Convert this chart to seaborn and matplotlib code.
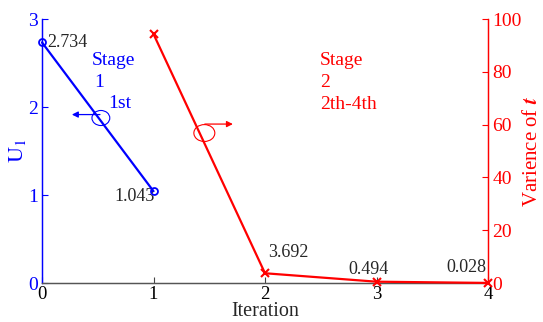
import matplotlib
matplotlib.use("Agg")
import matplotlib.pyplot as plt
from matplotlib.patches import Ellipse
import seaborn as sns
import pandas as pd

# Stage 1: U1 over the first iteration
stage1_iter = [0, 1]
stage1_u1 = [2.734, 1.043]
stage1_labels = ["2.734", "1.043"]

# Stage 2: variance over iterations 1-4
stage2_iter = [1, 2, 3, 4]
stage2_var = [94.3, 3.692, 0.494, 0.028]
stage2_labels = [None, "3.692", "0.494", "0.028"]

x_ticks = [0, 1, 2, 3, 4]
left_ticks = [0, 1, 2, 3]
right_ticks = [0, 20, 40, 60, 80, 100]

sns.set_style("ticks")
plt.rcParams["font.family"] = ["Liberation Serif", "DejaVu Serif"]
plt.rcParams["mathtext.fontset"] = "stix"
plt.rcParams["xtick.direction"] = "in"
plt.rcParams["ytick.direction"] = "in"

BLUE = "#0000ff"
RED = "#ff0000"

fig = plt.figure(figsize=(5.43, 3.22), dpi=100)
ax = fig.add_axes([42 / 543, 1 - 283 / 322, 446 / 543, 264 / 322])
ax2 = ax.twinx()

df1 = pd.DataFrame({"iter": stage1_iter, "u1": stage1_u1})
df2 = pd.DataFrame({"iter": stage2_iter, "var": stage2_var})

sns.lineplot(data=df1, x="iter", y="u1", ax=ax, color=BLUE, linewidth=1.6,
             marker="o", markersize=5, markerfacecolor="none",
             markeredgecolor=BLUE, markeredgewidth=1.3, clip_on=False, zorder=5)
sns.lineplot(data=df2, x="iter", y="var", ax=ax2, color=RED, linewidth=1.6,
             marker="x", markersize=6, markeredgecolor=RED,
             markeredgewidth=1.5, clip_on=False, zorder=5)

ax.set_xlim(0, 4)
ax.set_ylim(0, 3)
ax2.set_ylim(0, 100)
ax.set_xticks(x_ticks)
ax.set_yticks(left_ticks)
ax2.set_yticks(right_ticks)

tick_fs = 14
ax.tick_params(axis="x", labelsize=13.5, length=4, colors="#444444", labelcolor="black", pad=2.5)
ax.tick_params(axis="y", labelsize=tick_fs, length=4, colors=BLUE, labelcolor=BLUE, pad=3)
ax2.tick_params(axis="y", labelsize=tick_fs, length=4, colors=RED, labelcolor=RED, pad=3)

for a in (ax, ax2):
    a.spines["top"].set_visible(False)
    a.spines["left"].set_color(BLUE)
    a.spines["right"].set_color(RED)
    a.spines["bottom"].set_color("#555555")
    a.spines["left"].set_linewidth(0.9)
    a.spines["right"].set_linewidth(0.9)
    a.spines["bottom"].set_linewidth(0.9)

ax.set_xlabel("Iteration", fontsize=14.5, labelpad=-1)
ax.set_ylabel(r"$\mathrm{U}_1$", fontsize=16, color=BLUE, labelpad=0)
ax2.set_ylabel(r"Varience of $\mathbfit{t}$", fontsize=15, color=RED, labelpad=1)

# value labels
ann_fs = 13
ax.annotate(stage1_labels[0], (stage1_iter[0], stage1_u1[0]), xytext=(4, 0),
            textcoords="offset points", ha="left", va="center", fontsize=ann_fs)
ax.annotate(stage1_labels[1], (stage1_iter[1], stage1_u1[1]), xytext=(1, -4),
            textcoords="offset points", ha="right", va="center", fontsize=ann_fs)
offsets = {1: (2, 15, "left"), 2: (-6, 9, "center"), 3: (-1, 11, "right")}
for i, lab in enumerate(stage2_labels):
    if lab is None:
        continue
    dx, dy, ha = offsets[i]
    ax2.annotate(lab, (stage2_iter[i], stage2_var[i]), xytext=(dx, dy),
                 textcoords="offset points", ha=ha, va="center", fontsize=ann_fs)

# stage notes
note_fs = 14
ax.text(0.112, 0.826, "Stage", transform=ax.transAxes, color=BLUE, fontsize=note_fs, va="baseline")
ax.text(0.117, 0.742, "1", transform=ax.transAxes, color=BLUE, fontsize=note_fs, va="baseline")
ax.text(0.148, 0.663, "1st", transform=ax.transAxes, color=BLUE, fontsize=note_fs, va="baseline")
ax.text(0.623, 0.826, "Stage", transform=ax.transAxes, color=RED, fontsize=note_fs, va="baseline")
ax.text(0.623, 0.742, "2", transform=ax.transAxes, color=RED, fontsize=note_fs, va="baseline")
ax.text(0.623, 0.659, "2th-4th", transform=ax.transAxes, color=RED, fontsize=note_fs, va="baseline")

# axis-pointer ellipses and arrows
ax.add_patch(Ellipse((0.132, 0.625), 0.040, 0.057, transform=ax.transAxes,
                     fill=False, edgecolor=BLUE, linewidth=0.8, zorder=6))
ax.annotate("", xy=(0.067, 0.638), xytext=(0.130, 0.638), xycoords="axes fraction",
            arrowprops=dict(arrowstyle="-|>", color=BLUE, lw=0.9, mutation_scale=9,
                            shrinkA=0, shrinkB=0))
ax.add_patch(Ellipse((0.364, 0.568), 0.047, 0.064, transform=ax.transAxes,
                     fill=False, edgecolor=RED, linewidth=0.8, zorder=6))
ax.annotate("", xy=(0.428, 0.602), xytext=(0.365, 0.602), xycoords="axes fraction",
            arrowprops=dict(arrowstyle="-|>", color=RED, lw=0.9, mutation_scale=9,
                            shrinkA=0, shrinkB=0))

fig.savefig("out.png", dpi=100)
